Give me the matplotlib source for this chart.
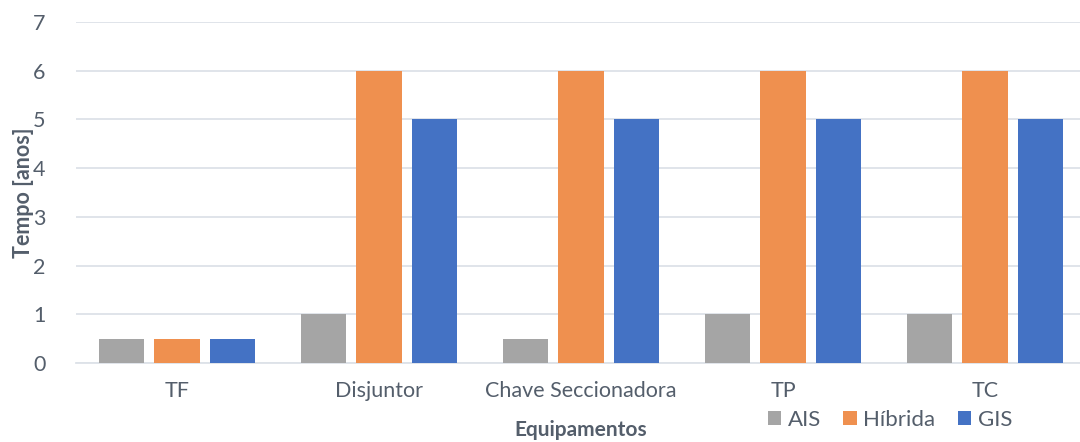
import matplotlib
matplotlib.use("Agg")
import matplotlib.pyplot as plt
import numpy as np

categories = ["TF", "Disjuntor", "Chave Seccionadora", "TP", "TC"]
ais = [0.5, 1, 0.5, 1, 1]
hibrida = [0.5, 6, 6, 6, 6]
gis = [0.5, 5, 5, 5, 5]

TEXT = "#545e6b"
plt.rcParams["font.family"] = ["Lato", "DejaVu Sans"]

fig = plt.figure(figsize=(10.8, 4.42), dpi=100)
ax = fig.add_axes([76 / 1080, 1 - 363 / 442, 1010 / 1080, 341 / 442])

x = np.arange(len(categories))
width = 0.223
step = 0.276
series = [
    (ais, "AIS", "#a5a5a5"),
    (hibrida, "Híbrida", "#ef904f"),
    (gis, "GIS", "#4472c4"),
]
for i, (vals, label, color) in enumerate(series):
    ax.bar(x + (i - 1) * step, vals, width, label=label, color=color, zorder=3)

ax.set_xlim(-0.5, len(categories) - 0.5)
ax.set_ylim(0, 7)
ax.set_yticks(range(8))
ax.yaxis.grid(True, color="#dde2e8", linewidth=1.3, zorder=0)
for s in ["top", "right", "left"]:
    ax.spines[s].set_visible(False)
ax.spines["bottom"].set_color("#dde2e8")
ax.spines["bottom"].set_linewidth(1.3)
ax.tick_params(axis="both", length=0, labelsize=15.5, labelcolor=TEXT)
ax.tick_params(axis="y", pad=22)
ax.tick_params(axis="x", pad=13)
ax.set_xticks(x)
ax.set_xticklabels(categories)

ax.set_ylabel("Tempo [anos]", fontsize=15.5, fontweight="bold", color=TEXT, labelpad=-1)
ax.set_xlabel("Equipamentos", fontsize=15, fontweight="bold", color=TEXT, labelpad=14)

fig.legend(loc="center left", bbox_to_anchor=(768 / 1080, 1 - 420 / 442), ncol=3,
           frameon=False, fontsize=16, handlelength=0.6, handleheight=0.6,
           handletextpad=0.3, columnspacing=1.0, labelcolor=TEXT,
           borderpad=0, borderaxespad=0)

fig.savefig("out.png", dpi=100)
